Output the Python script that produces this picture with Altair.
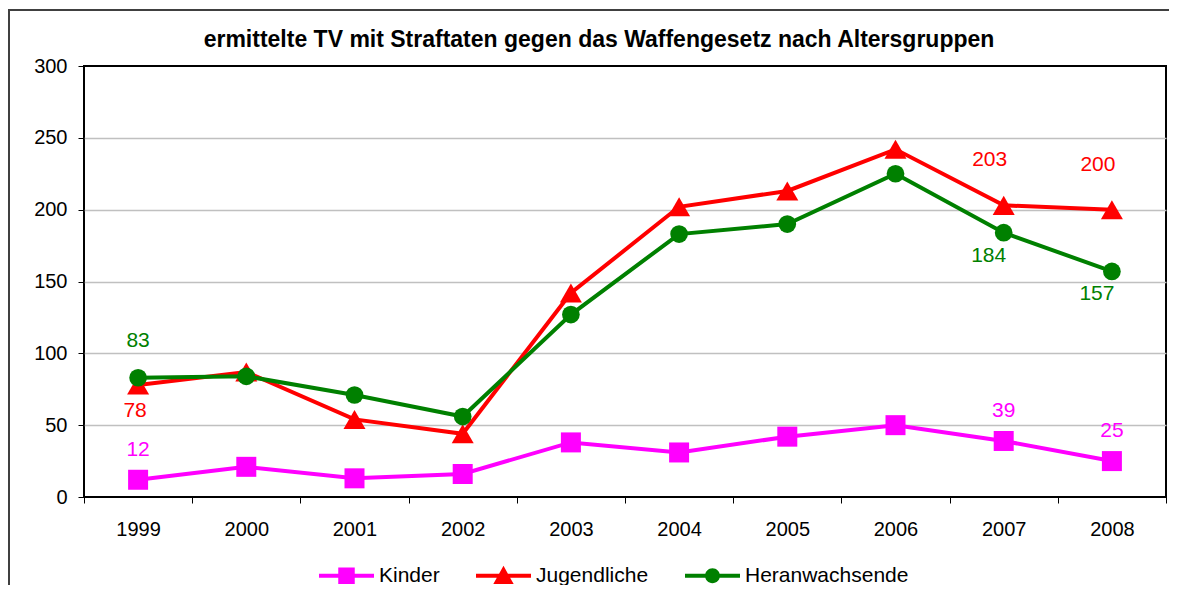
import altair as alt
import pandas as pd

# ---- data ----
years = ["1999", "2000", "2001", "2002", "2003", "2004", "2005", "2006", "2007", "2008"]
kinder = [12, 21, 13, 16, 38, 31, 42, 50, 39, 25]
jugendliche = [78, 87, 54, 44, 142, 202, 213, 242, 203, 200]
heranwachsende = [83, 84, 71, 56, 127, 183, 190, 225, 184, 157]

series_names = ["Kinder", "Jugendliche", "Heranwachsende"]
series_values = [kinder, jugendliche, heranwachsende]
y_ticks = [0, 50, 100, 150, 200, 250, 300]
title_text = "ermittelte TV mit Straftaten gegen das Waffengesetz nach Altersgruppen"

# which points carry a value label
labelled_years = {
    "Kinder": ["1999", "2007", "2008"],
    "Jugendliche": ["1999", "2007", "2008"],
    "Heranwachsende": ["1999", "2007", "2008"],
}

# ---- styles ----
series_colors = ["#FF00FF", "#FF0000", "#008000"]
series_shapes = ["square", "triangle-up", "circle"]
marker_sizes = [400, 484, 314]
legend_paths = [
    "M-1,-0.07H1V0.07H-1Z M-0.3,-0.3H0.3V0.3H-0.3Z",
    "M-1,-0.07H1V0.07H-1Z M0,-0.36L0.37,0.3H-0.37Z",
    "M-1,-0.07H1V0.07H-1Z M-0.27,0A0.27,0.27 0 1,1 0.27,0A0.27,0.27 0 1,1 -0.27,0Z",
]
# (series, years subset, dx, dy) for value labels
label_styles = [
    ("Kinder", ["1999", "2007", "2008"], 0, -30),
    ("Jugendliche", ["1999"], -3, 26),
    ("Jugendliche", ["2007", "2008"], -14, -45),
    ("Heranwachsende", ["1999"], 0, -37),
    ("Heranwachsende", ["2007", "2008"], -15, 23),
]

FONT = "Liberation Sans"
W, H = 1082, 431

rows = []
for name, vals in zip(series_names, series_values):
    for yr, v in zip(years, vals):
        rows.append({"year": yr, "series": name, "value": v})
df = pd.DataFrame(rows)

x_axis = alt.Axis(
    title=None, tickBand="extent", labelAngle=0, labelFontSize=20, labelColor="black",
    labelFont=FONT, tickColor="black", tickSize=6, tickWidth=1, labelPadding=16,
    domain=False, grid=False,
)
y_axis = alt.Axis(
    title=None, values=y_ticks, labelFontSize=20, labelColor="black", labelFont=FONT,
    tickColor="black", tickSize=6, tickWidth=1, labelPadding=11, domain=False,
    grid=True, gridColor="#c0c0c0", gridWidth=1.5,
    gridOpacity={"condition": {"test": "datum.value == 0 || datum.value == 300", "value": 0}, "value": 1},
)
x_enc = alt.X("year:O", sort=years,
              scale=alt.Scale(type="band", domain=years, paddingInner=0, paddingOuter=0),
              axis=x_axis, bandPosition=0.5)
y_enc = alt.Y("value:Q", scale=alt.Scale(domain=[0, 300], nice=False), axis=y_axis)

layers = []

# outer chart frame (decoration)
frame = alt.Chart(pd.DataFrame({"a": [0]})).mark_rect(
    fill="transparent", stroke="#404040", strokeWidth=2
).encode(x=alt.value(-75), x2=alt.value(1400), y=alt.value(-56), y2=alt.value(800))
layers.append(frame)

for name, color, shape, size in zip(series_names, series_colors, series_shapes, marker_sizes):
    sdf = df[df["series"] == name]
    base = alt.Chart(sdf).encode(x=x_enc, y=y_enc)
    layers.append(base.mark_line(color=color, strokeWidth=4))
    layers.append(base.mark_point(filled=True, shape=shape, size=size, color=color, opacity=1))

legend = alt.Legend(
    orient="none", legendX=235, legendY=482, direction="horizontal", title=None,
    symbolSize=3025, symbolStrokeWidth=0, symbolOpacity=1, labelFontSize=21,
    labelFont=FONT, labelColor="black", labelOffset=5, columnPadding=36, padding=0,
    labelLimit=400,
)
legend_layer = alt.Chart(df).mark_point(filled=True, opacity=0).encode(
    x=x_enc, y=y_enc,
    color=alt.Color("series:N", scale=alt.Scale(domain=series_names, range=series_colors), legend=legend),
    shape=alt.Shape("series:N", scale=alt.Scale(domain=series_names, range=legend_paths), legend=legend),
)
layers.append(legend_layer)

for name, yrs, dx, dy in label_styles:
    color = series_colors[series_names.index(name)]
    ldf = df[(df["series"] == name) & (df["year"].isin(yrs)) & (df["year"].isin(labelled_years[name]))]
    layers.append(
        alt.Chart(ldf).mark_text(
            color=color, fontSize=21, font=FONT, dx=dx, dy=dy, align="center", baseline="middle"
        ).encode(x=x_enc, y=y_enc, text=alt.Text("value:Q"))
    )

chart = alt.layer(*layers).properties(
    width=W, height=H,
    autosize=alt.AutoSizeParams(type="none"),
    padding={"left": 76, "top": 58, "right": 3, "bottom": 88},
    title=alt.TitleParams(
        text=title_text, font=FONT, fontSize=23, fontWeight="bold", color="black",
        anchor="middle", frame="group", dx=-26, offset=-61, baseline="alphabetic",
    ),
).configure(font=FONT).configure_view(stroke="black", strokeWidth=2)

chart.save("out.html", embed_options={"renderer": "svg", "actions": False})
